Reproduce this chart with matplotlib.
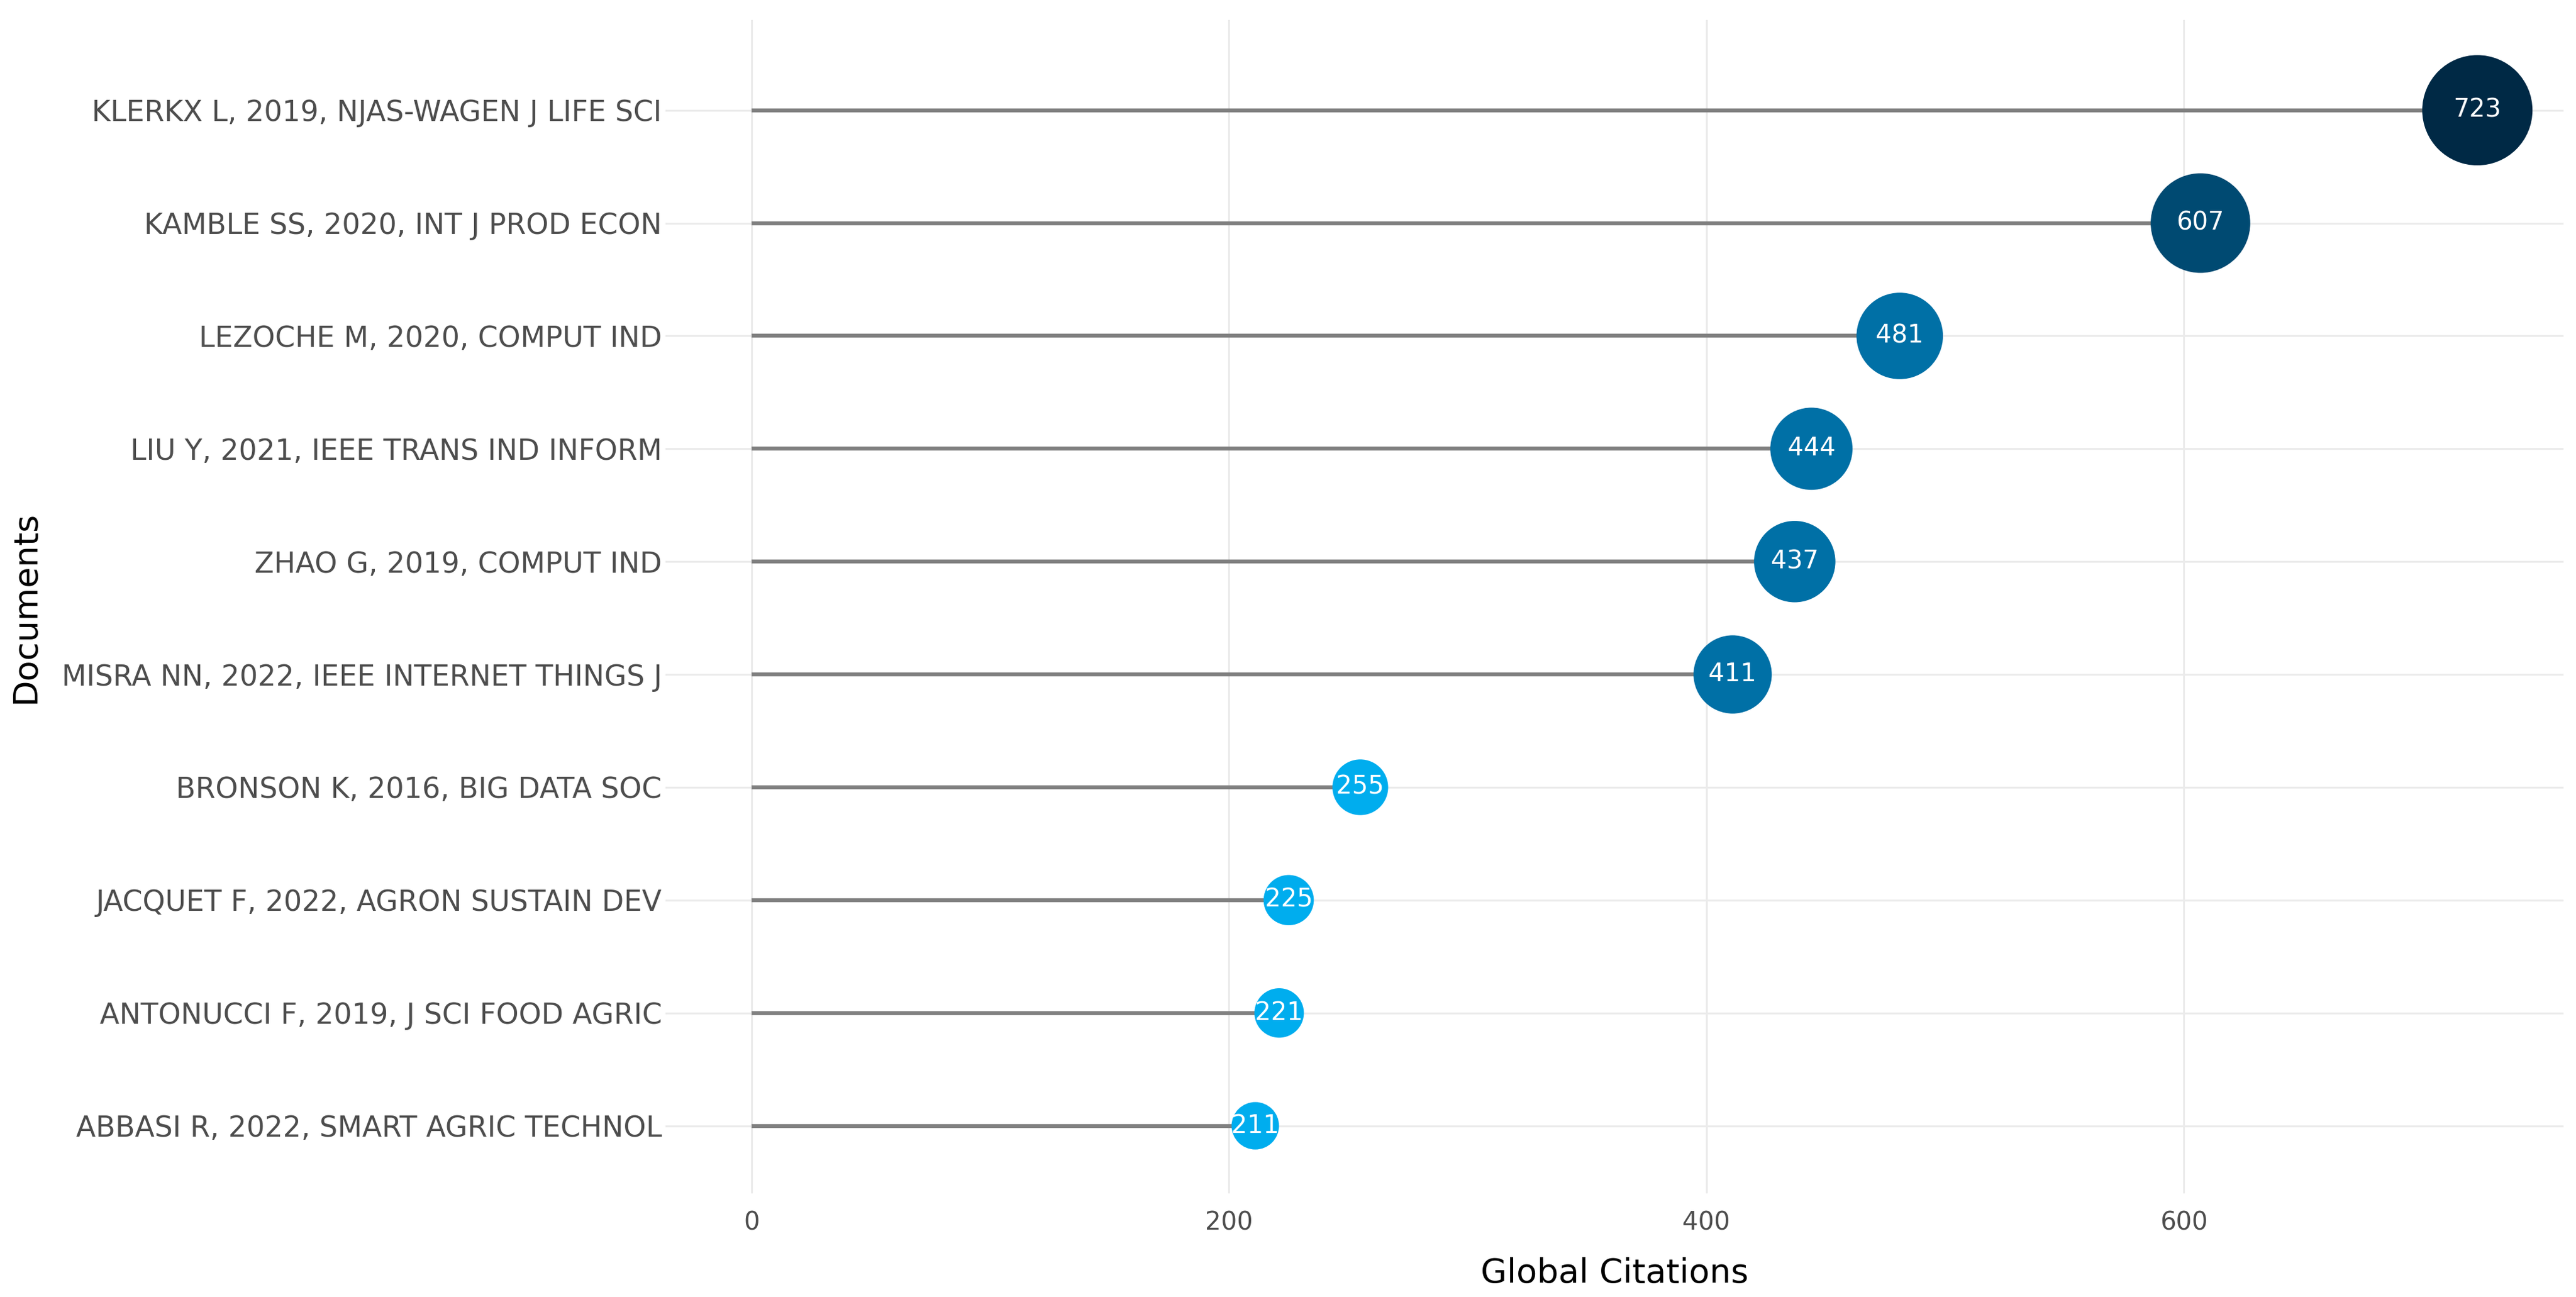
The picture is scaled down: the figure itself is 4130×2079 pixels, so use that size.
import matplotlib
matplotlib.use("Agg")
import matplotlib.pyplot as plt
import numpy as np

# documents, top to bottom
documents = [
    "KLERKX L, 2019, NJAS-WAGEN J LIFE SCI",
    "KAMBLE SS, 2020, INT J PROD ECON",
    "LEZOCHE M, 2020, COMPUT IND",
    "LIU Y, 2021, IEEE TRANS IND INFORM",
    "ZHAO G, 2019, COMPUT IND",
    "MISRA NN, 2022, IEEE INTERNET THINGS J",
    "BRONSON K, 2016, BIG DATA SOC",
    "JACQUET F, 2022, AGRON SUSTAIN DEV",
    "ANTONUCCI F, 2019, J SCI FOOD AGRIC",
    "ABBASI R, 2022, SMART AGRIC TECHNOL",
]
citations = [723, 607, 481, 444, 437, 411, 255, 225, 221, 211]
x_ticks = [0, 200, 400, 600]


def point_colour(v):
    # stepped blue palette like the source
    if v >= 650:
        return "#002945"
    if v >= 550:
        return "#004A72"
    if v >= 350:
        return "#0070A6"
    return "#00ADEE"


def main():
    plt.rcParams["font.family"] = ["DejaVu Sans"]
    fig = plt.figure(figsize=(20.65, 10.395), dpi=200)
    ax = fig.add_axes([0.2583, 0.0798, 0.7369, 0.9048])

    vals = np.array(citations)
    ypos = np.arange(len(documents))[::-1] + 1

    # grid
    for t in x_ticks:
        ax.axvline(t, color="#EBEBEB", lw=1.1, zorder=0)
    for y in ypos:
        ax.axhline(y, color="#EBEBEB", lw=1.1, zorder=0)

    ax.hlines(ypos, 0, vals, color="#808080", lw=2.3, zorder=2)

    # area of the dot grows with the value
    s_min, s_max = 750.0, 4050.0
    sizes = s_min + (vals - vals.min()) * (s_max - s_min) / (vals.max() - vals.min())
    cols = [point_colour(v) for v in vals]
    ax.scatter(vals, ypos, s=sizes, c=cols, edgecolors="none", zorder=3)

    for v, y in zip(vals, ypos):
        ax.text(v, y, str(v), color="white", fontsize=14.5, ha="center",
                va="center", zorder=4)

    ax.set_xlim(-36.15, 759.15)
    ax.set_ylim(0.4, 10.8)
    ax.set_xticks(x_ticks)
    ax.set_yticks(ypos)
    ax.set_yticklabels(documents)
    ax.tick_params(axis="both", length=0, labelcolor="#4D4D4D")
    ax.tick_params(axis="y", pad=2, labelsize=16.5)
    ax.tick_params(axis="x", pad=10, labelsize=14.5)
    for sp in ax.spines.values():
        sp.set_visible(False)

    ax.set_xlabel("Global Citations", fontsize=19.5, color="black")
    ax.set_ylabel("Documents", fontsize=19.5, color="black", va="center")
    ax.xaxis.set_label_coords(0.5, -0.054)
    ax.yaxis.set_label_coords(-0.337, 0.5)

    fig.savefig("out.png", dpi=200)


if __name__ == "__main__":
    main()
